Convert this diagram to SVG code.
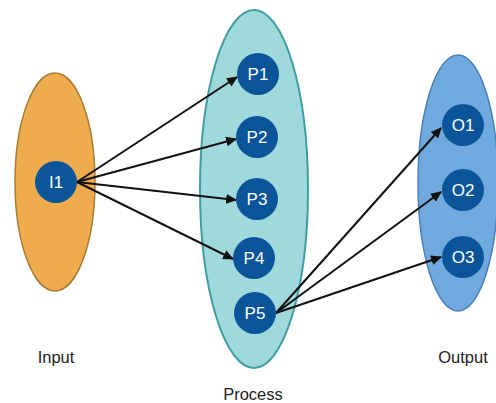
<svg xmlns="http://www.w3.org/2000/svg" width="496" height="403" viewBox="0 0 496 403">
  <style>
    .node circle { fill: #0a559a; }
    .node text { fill: #ffffff; font-family: "Liberation Sans", Arial, sans-serif; font-size: 17px; text-anchor: middle; dominant-baseline: central; }
    .label { fill: #222222; font-family: "Liberation Sans", Arial, sans-serif; font-size: 16.5px; text-anchor: middle; }
    .edges line { stroke: #111111; stroke-width: 2; marker-end: url(#arrow); }
  </style>
  <defs>
    <marker id="arrow" viewBox="0 0 10 10" refX="9" refY="5" markerWidth="5.5" markerHeight="5.5" orient="auto" markerUnits="strokeWidth">
      <path d="M0,0.5 L10,5 L0,9.5 z" fill="#111111"/>
    </marker>
  </defs>
  <rect width="496" height="403" fill="#ffffff"/>

  <!-- stage containers -->
  <g id="input-stage">
    <ellipse cx="55" cy="182" rx="40" ry="109" fill="#efac4f" stroke="#a87c34" stroke-width="1.5"/>
  </g>
  <g id="process-stage">
    <ellipse cx="254" cy="189" rx="54" ry="179" fill="#a0d9dc" stroke="#3f9ea2" stroke-width="2"/>
  </g>
  <g id="output-stage">
    <ellipse cx="458" cy="183" rx="40" ry="128" fill="#70a9dd" stroke="#4a80b8" stroke-width="1.5"/>
  </g>

  <!-- connectors -->
  <g class="edges">
    <line x1="77" y1="182" x2="237" y2="77"/>
    <line x1="77" y1="182" x2="236" y2="139"/>
    <line x1="77" y1="182" x2="236" y2="200"/>
    <line x1="77" y1="182" x2="233" y2="259"/>
    <line x1="276" y1="313" x2="441" y2="128"/>
    <line x1="276" y1="313" x2="441" y2="192"/>
    <line x1="276" y1="313" x2="441" y2="257"/>
  </g>

  <!-- nodes -->
  <g id="I1" class="node"><circle cx="56" cy="182" r="21"/><text x="56" y="182">I1</text></g>
  <g id="P1" class="node"><circle cx="258" cy="74" r="21"/><text x="258" y="74">P1</text></g>
  <g id="P2" class="node"><circle cx="257" cy="137" r="21"/><text x="257" y="137">P2</text></g>
  <g id="P3" class="node"><circle cx="257" cy="199" r="21"/><text x="257" y="199">P3</text></g>
  <g id="P4" class="node"><circle cx="254" cy="258" r="21"/><text x="254" y="258">P4</text></g>
  <g id="P5" class="node"><circle cx="255" cy="313" r="21"/><text x="255" y="313">P5</text></g>
  <g id="O1" class="node"><circle cx="463" cy="125" r="21"/><text x="463" y="125">O1</text></g>
  <g id="O2" class="node"><circle cx="463" cy="190" r="21"/><text x="463" y="190">O2</text></g>
  <g id="O3" class="node"><circle cx="463" cy="257" r="21"/><text x="463" y="257">O3</text></g>

  <!-- stage labels -->
  <text class="label" x="56" y="363">Input</text>
  <text class="label" x="253" y="400">Process</text>
  <text class="label" x="463" y="363">Output</text>
</svg>
